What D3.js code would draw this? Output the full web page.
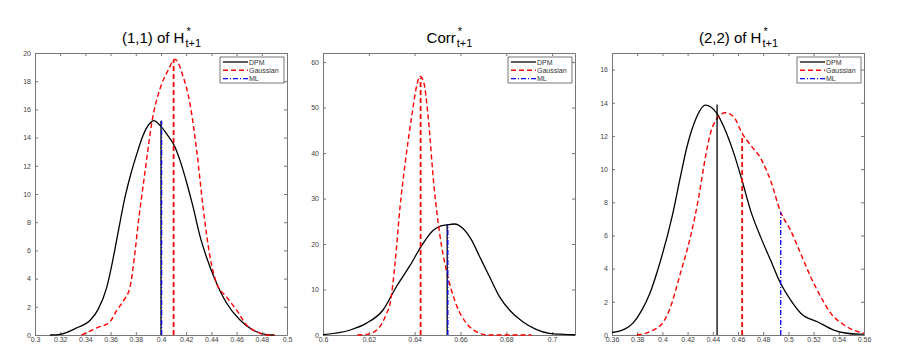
<!DOCTYPE html>
<meta charset="utf-8">
<head>
    <style>
        body { margin: 0; background: #fff; }
        .tick text { font-family: "Liberation Sans", Arial, sans-serif; font-size: 7px; fill: #444; }
        .axis path, .axis line { stroke: #777; }
        .title { font-family: "Liberation Sans", Arial, sans-serif; fill: #000; }
        .legend text { font-family: "Liberation Sans", Arial, sans-serif; font-size: 7px; fill: #333; }
    </style>
    <script src="https://d3js.org/d3.v7.min.js"></script>
</head>
<body>
<svg id="chart"></svg>
<script>
    var width = 900, height = 353;

    // ---- data ----
    // panel 1: (1,1) of H
    var p1Dpm = [[0.312,0],[0.32,0.05],[0.333,0.5],[0.344,1.06],[0.350,1.8],[0.357,3.4],[0.3615,5.2],[0.366,7.3],[0.371,9.6],
        [0.376,11.4],[0.381,12.9],[0.3855,14.1],[0.391,15.0],[0.394,15.2],[0.4,14.8],[0.405,14.2],[0.411,13.35],[0.415,12.4],
        [0.4204,10.8],[0.4254,9.1],[0.431,7.0],[0.436,5.55],[0.443,3.9],[0.452,2.27],[0.4627,1.06],[0.473,0.35],
        [0.484,0.03],[0.49,0]];
    var p1Gauss = [[0.337,0],[0.349,0.5],[0.3595,0.94],[0.365,1.77],[0.37,2.4],[0.3754,3.4],[0.379,5.6],[0.382,8.0],
        [0.386,10.7],[0.39,13.4],[0.3926,15.0],[0.399,17.4],[0.4058,18.8],[0.411,19.55],[0.4177,18.3],[0.423,16.4],
        [0.4283,13.1],[0.4336,8.9],[0.4389,5.55],[0.444,3.7],[0.452,2.7],[0.46,1.77],[0.468,0.7],[0.476,0.23],
        [0.484,0],[0.49,0]];
    var p1Marks = [0.4, 0.41, 0.4005];          // DPM, Gaussian, ML
    var p1MarkTops = [15.2, 19.5, 15.2];
    var p1XTicks = [0.3,0.32,0.34,0.36,0.38,0.4,0.42,0.44,0.46,0.48,0.5];
    var p1YTicks = [0,2,4,6,8,10,12,14,16,18,20];

    // panel 2: Corr
    var p2Dpm = [[0.6,0.1],[0.6119,1.1],[0.619,2.6],[0.6262,5.5],[0.632,10.6],[0.638,15.3],[0.643,19.6],[0.648,23.0],
        [0.651,23.9],[0.654,24.2],[0.6575,24.4],[0.6611,23.4],[0.6648,20.9],[0.6684,17.2],[0.6727,12.8],[0.6771,8.4],
        [0.6814,5.5],[0.6872,2.9],[0.693,1.25],[0.6988,0.37],[0.705,0.15],[0.71,0.05]];
    var p2Gauss = [[0.615,0],[0.6191,0.15],[0.6235,1.1],[0.6278,4.8],[0.6293,7],[0.6315,16],[0.6336,28],[0.6358,37.5],
        [0.6387,48],[0.641,55],[0.6423,56.9],[0.644,55.5],[0.6459,48],[0.6484,33],[0.651,22],[0.6542,13.5],
        [0.6583,6.5],[0.6626,2.6],[0.6684,0.4],[0.6727,0],[0.691,0]];
    var p2Marks = [0.6542, 0.6426, 0.6545];
    var p2MarkTops = [24.3, 56.5, 24.3];
    var p2XTicks = [0.6,0.62,0.64,0.66,0.68,0.7];
    var p2YTicks = [0,10,20,30,40,50,60];

    // panel 3: (2,2) of H
    var p3Dpm = [[0.36,0.15],[0.37,0.35],[0.377,0.75],[0.3837,1.5],[0.39,2.5],[0.3982,4.4],[0.4076,7.1],[0.4142,9.5],[0.4195,11.35],
        [0.4261,12.95],[0.4341,13.86],[0.4434,13.35],[0.4487,12.55],[0.4567,10.95],[0.4633,9.3],[0.47,7.5],[0.478,5.9],
        [0.4859,4.5],[0.4939,3.1],[0.5018,2.1],[0.51,1.3],[0.523,0.8],[0.536,0.3],[0.545,0.12],[0.556,0.05],[0.56,0.05]];
    var p3Gauss = [[0.3797,0],[0.39,0.2],[0.4009,0.8],[0.406,1.6],[0.4142,3.7],[0.4222,5.9],[0.4288,8.3],[0.4341,10.7],
        [0.4381,12.15],[0.4434,13.05],[0.45,13.4],[0.4567,13.15],[0.4633,12.15],[0.47,11.45],[0.478,10.65],[0.4859,9.3],
        [0.4939,7.4],[0.5018,6.3],[0.5098,4.9],[0.5177,3.5],[0.5257,2.3],[0.5337,1.3],[0.5443,0.6],[0.555,0.2],[0.56,0.1]];
    var p3Marks = [0.4434, 0.4633, 0.4939];
    var p3MarkTops = [13.9, 12.05, 7.4];
    var p3XTicks = [0.36,0.38,0.4,0.42,0.44,0.46,0.48,0.5,0.52,0.54,0.56];
    var p3YTicks = [0,2,4,6,8,10,12,14,16];

    var seriesNames = ["DPM", "Gaussian", "ML"];
    var seriesColors = ["#000000", "#ff0000", "#0000ff"];
    var seriesDash = [null, "5,3", "5,2,1,2"];
    var seriesWidth = [1.3, 1.4, 1.2];

    var panels = [
        {left: 35,  main: "(1,1) of H", xDom: [0.3, 0.5],  yDom: [0, 20], dpm: p1Dpm, gauss: p1Gauss,
            marks: p1Marks, tops: p1MarkTops, xt: p1XTicks, yt: p1YTicks},
        {left: 323, main: "Corr",       xDom: [0.6, 0.71], yDom: [0, 62], dpm: p2Dpm, gauss: p2Gauss,
            marks: p2Marks, tops: p2MarkTops, xt: p2XTicks, yt: p2YTicks},
        {left: 612, main: "(2,2) of H", xDom: [0.36, 0.56], yDom: [0, 17], dpm: p3Dpm, gauss: p3Gauss,
            marks: p3Marks, tops: p3MarkTops, xt: p3XTicks, yt: p3YTicks}
    ];
    var pw = 252, ph = 282, panelTop = 53;

    var svg = d3.select("#chart")
        .attr("width", width)
        .attr("height", height);

    var fmt = function(d){ return String(+d.toFixed(2)); };

    panels.forEach(function(p){
        var g = svg.append("g").attr("transform", "translate(" + p.left + "," + panelTop + ")");
        var x = d3.scaleLinear().domain(p.xDom).range([0, pw]);
        var y = d3.scaleLinear().domain(p.yDom).range([ph, 0]);

        g.append("rect").attr("width", pw).attr("height", ph).attr("fill", "#fff");

        // axes, ticks pointing inside like matlab
        g.append("g").attr("class", "axis").attr("transform", "translate(0," + ph + ")")
            .call(d3.axisBottom(x).tickValues(p.xt).tickFormat(fmt).tickSizeInner(-3).tickSizeOuter(0).tickPadding(2));
        g.append("g").attr("class", "axis")
            .call(d3.axisTop(x).tickValues(p.xt).tickFormat("").tickSizeInner(-3).tickSizeOuter(0));
        g.append("g").attr("class", "axis")
            .call(d3.axisLeft(y).tickValues(p.yt).tickFormat(fmt).tickSizeInner(-3).tickSizeOuter(0).tickPadding(4));
        g.append("g").attr("class", "axis").attr("transform", "translate(" + pw + ",0)")
            .call(d3.axisRight(y).tickValues(p.yt).tickFormat("").tickSizeInner(-3).tickSizeOuter(0));

        var line = d3.line()
            .x(function(d){ return x(d[0]); })
            .y(function(d){ return y(d[1]); })
            .curve(d3.curveMonotoneX);

        [p.dpm, p.gauss].forEach(function(s, i){
            g.append("path")
                .datum(s)
                .attr("d", line)
                .attr("fill", "none")
                .attr("stroke", seriesColors[i])
                .attr("stroke-width", seriesWidth[i])
                .attr("stroke-dasharray", seriesDash[i]);
        });

        // vertical lines at the estimates
        p.marks.forEach(function(m, i){
            g.append("line")
                .attr("x1", x(m)).attr("x2", x(m))
                .attr("y1", y(0)).attr("y2", y(p.tops[i]))
                .attr("stroke", seriesColors[i])
                .attr("stroke-width", i == 1 ? 1.8 : 1.3)
                .attr("stroke-dasharray", seriesDash[i]);
        });

        // title: main text with H^*_{t+1}
        var cx = pw / 2;
        var t = g.append("g").attr("class", "title");
        var mainT = t.append("text").attr("y", -10).attr("font-size", 15).text(p.main);
        var subT = t.append("text").attr("y", -6).attr("font-size", 11).text("t+1");
        var starT = t.append("text").attr("y", -18).attr("font-size", 11).text("*");
        var wm = mainT.node().getComputedTextLength();
        var ws = subT.node().getComputedTextLength();
        var x0 = cx - (wm + ws) / 2;
        mainT.attr("x", x0);
        subT.attr("x", x0 + wm + 1);
        starT.attr("x", x0 + wm + 2);

        // legend
        var lg = g.append("g").attr("class", "legend").attr("transform", "translate(" + (pw - 67) + ",4)");
        lg.append("rect").attr("width", 64).attr("height", 26)
            .attr("fill", "#fff").attr("stroke", "#555").attr("stroke-width", 0.8);
        seriesNames.forEach(function(n, i){
            var ry = 5 + i * 8.3;
            lg.append("line").attr("x1", 3).attr("x2", 28).attr("y1", ry).attr("y2", ry)
                .attr("stroke", seriesColors[i]).attr("stroke-width", seriesWidth[i])
                .attr("stroke-dasharray", seriesDash[i]);
            lg.append("text").attr("x", 29).attr("y", ry + 2.5).text(n);
        });
    });
</script>
</body>
</html>
